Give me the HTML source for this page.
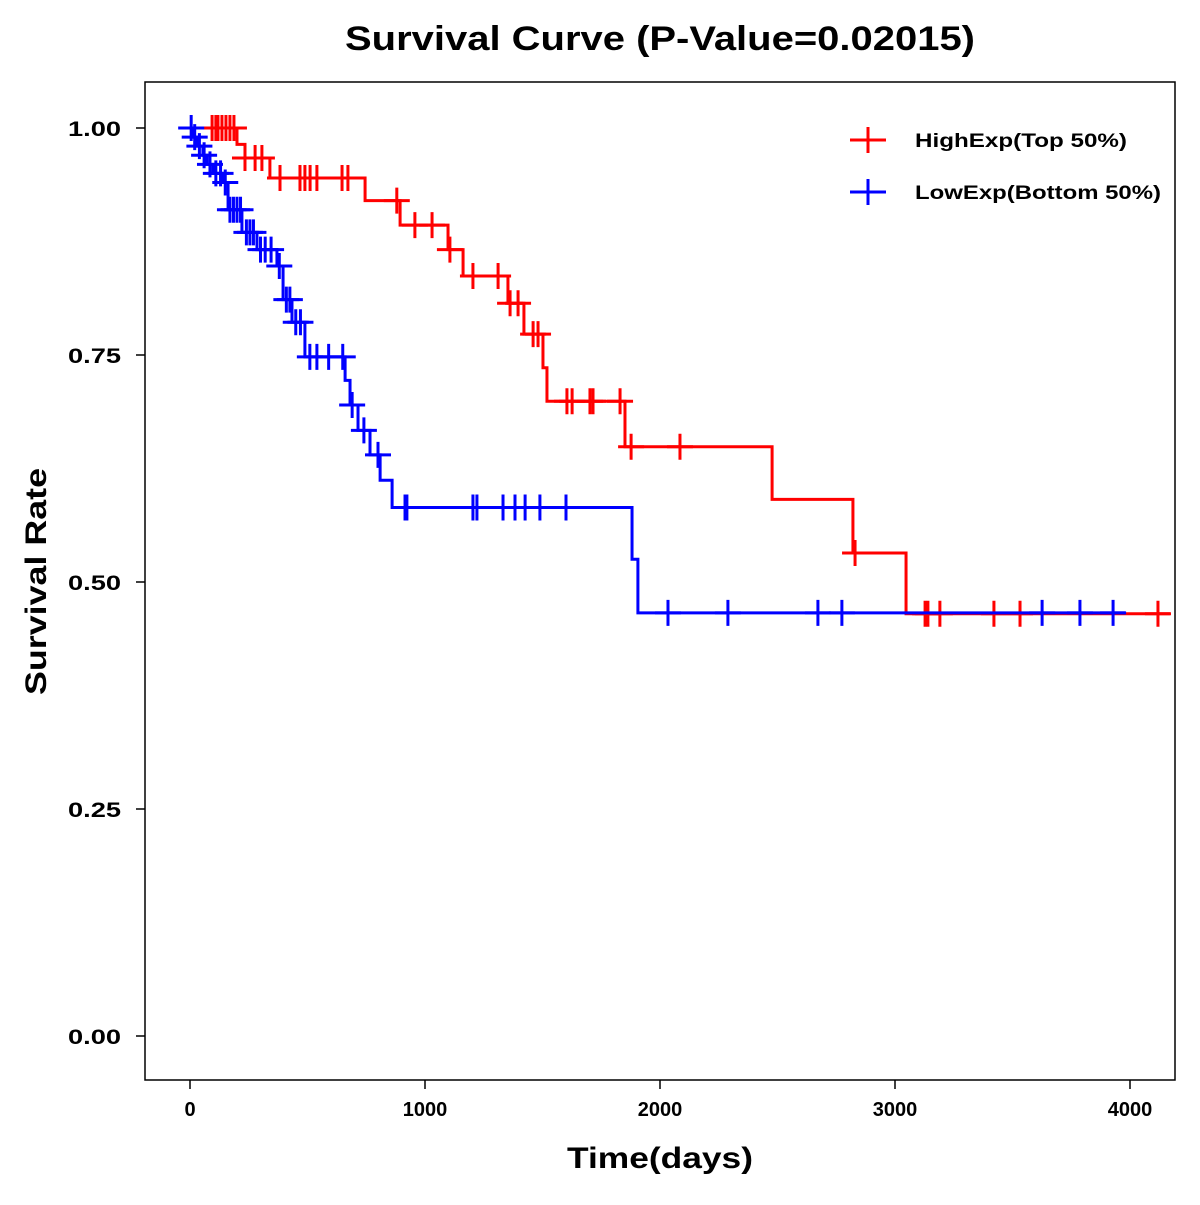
<!DOCTYPE html>
<html><head><meta charset="utf-8"><style>
body{margin:0;background:#fff}
text{font-family:"Liberation Sans",Arial,sans-serif;font-weight:bold}
</style></head><body>
<svg id="chart" width="1200" height="1200" xmlns="http://www.w3.org/2000/svg">
<rect width="1200" height="1200" fill="#fff"/>
<text x="345" y="50" font-size="34" textLength="630" lengthAdjust="spacingAndGlyphs">Survival Curve (P-Value=0.02015)</text>
<rect x="145" y="82" width="1030" height="998" fill="none" stroke="#000" stroke-width="1.5"/>
<g id="axes"></g>
<g id="series"></g>
<text x="567" y="1168" font-size="30" textLength="186" lengthAdjust="spacingAndGlyphs">Time(days)</text>
<text x="46" y="695" font-size="30" textLength="227" lengthAdjust="spacingAndGlyphs" transform="rotate(-90 46 695)">Survival Rate</text>
<g>
<line x1="850" y1="140" x2="886" y2="140" stroke="#f00" stroke-width="3"/><line x1="868" y1="127" x2="868" y2="153" stroke="#f00" stroke-width="3"/>
<text x="915" y="147" font-size="19" textLength="212" lengthAdjust="spacingAndGlyphs">HighExp(Top 50%)</text>
<line x1="850" y1="192" x2="886" y2="192" stroke="#00f" stroke-width="3"/><line x1="868" y1="179" x2="868" y2="205" stroke="#00f" stroke-width="3"/>
<text x="915" y="199" font-size="19" textLength="246" lengthAdjust="spacingAndGlyphs">LowExp(Bottom 50%)</text>
</g>
</svg>
<script>
const xTicks=[0,1000,2000,3000,4000];
const yTicks=[0,0.25,0.5,0.75,1.0];
const yTickLabels=["0.00","0.25","0.50","0.75","1.00"];
const highEventTimes=[200,234,340,745,894,1098,1162,1353,1421,1502,1519,1851,2477,2821,3047];
const highEventSurv=[0.982,0.967,0.945,0.920,0.893,0.866,0.837,0.807,0.773,0.736,0.699,0.649,0.591,0.532,0.465];
const highEndTime=4170;
const highCensor=[94,110,119,136,153,170,187,234,277,306,383,468,489,511,540,647,672,880,957,1030,1106,1204,1311,1362,1396,1460,1481,1604,1626,1702,1715,1830,1877,2085,2830,3128,3140,3191,3421,3532,4119];
const lowEventTimes=[13,30,55,72,98,140,162,221,285,370,396,434,489,660,681,715,766,809,860,1881,1906];
const lowEventSurv=[0.99,0.98,0.97,0.96,0.95,0.94,0.91,0.885,0.866,0.848,0.811,0.786,0.748,0.722,0.695,0.667,0.640,0.612,0.582,0.525,0.466];
const lowEndTime=3979;
const lowCensor=[5,20,40,60,85,110,130,150,170,185,200,215,240,255,270,300,320,345,380,410,425,450,470,510,540,590,650,690,740,800,915,923,1204,1221,1332,1383,1426,1489,1600,2034,2289,2672,2774,3626,3787,3928];

const NS="http://www.w3.org/2000/svg";
const X=t=>190+t*0.235;
const Y=s=>1036-s*908;
function mk(tag,attrs,parent){const e=document.createElementNS(NS,tag);for(const k in attrs)e.setAttribute(k,attrs[k]);parent.appendChild(e);return e;}
const axes=document.getElementById('axes');
xTicks.forEach(t=>{
  const l=mk('line',{x1:X(t),x2:X(t),y1:1080,y2:1089,stroke:'#000','stroke-width':1.5},axes);
  
  
  const tx=mk('text',{x:X(t),y:1116,'font-size':20,'text-anchor':'middle'},axes);tx.textContent=t;
  
  
});
yTicks.forEach((v,i)=>{
  const l=mk('line',{x1:136,x2:145,y1:Y(v),y2:Y(v),stroke:'#000','stroke-width':1.5},axes);
  
  
  const tx=mk('text',{x:68,y:Y(v)+8,'font-size':21,textLength:53,lengthAdjust:'spacingAndGlyphs'},axes);tx.textContent=yTickLabels[i];
  
  
});
function survAt(times,surv,t){let s=1;for(let i=0;i<times.length;i++){if(times[i]<=t)s=surv[i];}return s;}
function draw(times,surv,end,cens,color,name){
  const g=mk('g',{},document.getElementById('series'));
  
  
  let d='M'+X(0)+','+Y(1);
  times.forEach((t,i)=>{d+=' H'+X(t)+' V'+Y(surv[i]);});
  d+=' H'+X(end);
  const p=mk('path',{d:d,fill:'none',stroke:color,'stroke-width':3},g);
  
  
  cens.forEach(t=>{
    const y=Y(survAt(times,surv,t)),x=X(t);
    const c=mk('path',{d:`M${x-13},${y} H${x+13} M${x},${y-13} V${y+13}`,stroke:color,'stroke-width':3,fill:'none'},g);
    
    
  });
}
draw(highEventTimes,highEventSurv,highEndTime,highCensor,'#f00','high-exp');
draw(lowEventTimes,lowEventSurv,lowEndTime,lowCensor,'#00f','low-exp');
</script>
</body></html>
